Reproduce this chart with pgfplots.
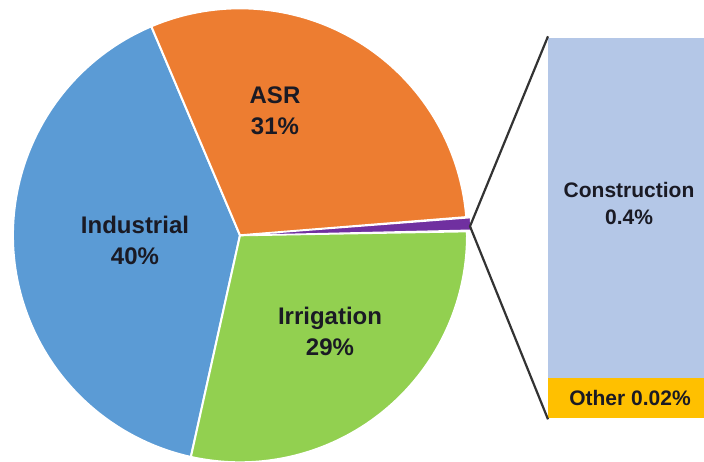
\documentclass[border=0pt]{standalone}
\usepackage{pgfplots}
\pgfplotsset{compat=1.18}
\usepackage{fontspec}
\setmainfont{Liberation Sans}

\definecolor{indblue}{HTML}{5B9BD5}
\definecolor{asrorange}{HTML}{ED7D31}
\definecolor{irrgreen}{HTML}{92D050}
\definecolor{conpurple}{HTML}{7030A0}
\definecolor{barblue}{HTML}{B4C7E7}
\definecolor{baryellow}{HTML}{FFC000}
\definecolor{labeltext}{HTML}{1A1A24}

\begin{document}
\begin{tikzpicture}
\begin{axis}[
    x=0.5pt, y=0.5pt,
    xmin=0, xmax=704,
    ymin=0, ymax=463,
    y dir=reverse,
    hide axis,
]
% pie: Industrial 40%, Irrigation 29%, Construction+Other (purple), ASR 31%
\fill[indblue, draw=white, line width=1pt] (axis cs:240,237) -- ++(113:113.5pt)
    arc[start angle=113, end angle=257.5, radius=113.5pt] -- cycle;
\fill[irrgreen, draw=white, line width=1pt] (axis cs:240,237) -- ++(257.5:113.5pt)
    arc[start angle=257.5, end angle=361, radius=113.5pt] -- cycle;
\fill[asrorange, draw=white, line width=1pt] (axis cs:240,237) -- ++(4.6:113.5pt)
    arc[start angle=4.6, end angle=113, radius=113.5pt] -- cycle;
\fill[conpurple, draw=white, line width=0.6pt] (axis cs:242,237) -- ++(1.3:114.5pt)
    arc[start angle=1.3, end angle=4.4, radius=114.5pt] -- cycle;

% bar of the small shares
\addplot[fill=barblue, draw=none] coordinates {(548,40) (704,40) (704,380) (548,380)};
\addplot[fill=baryellow, draw=none] coordinates {(548,380) (704,380) (704,420) (548,420)};

% connector lines
\addplot[draw=black!80, line width=1.1pt] coordinates {(548,38) (470,228) (548,421)};

% labels
\begin{scope}[every node/.style={font=\bfseries\fontsize{12}{15.5}\selectfont, text=labeltext, align=center}]
\node at (axis cs:275,112) {ASR\\31\%};
\node at (axis cs:135,242) {Industrial\\40\%};
\node at (axis cs:330,333) {Irrigation\\29\%};
\end{scope}
\begin{scope}[every node/.style={font=\bfseries\fontsize{10.5}{13.5}\selectfont, text=labeltext, align=center}]
\node at (axis cs:629,205) {Construction\\0.4\%};
\node at (axis cs:630,400) {Other 0.02\%};
\end{scope}
\end{axis}
\end{tikzpicture}
\end{document}
